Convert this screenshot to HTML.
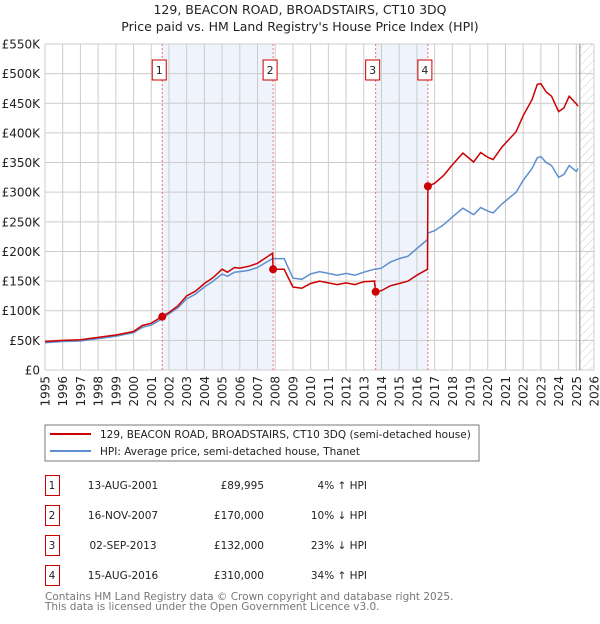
<!DOCTYPE html>
<html><head><meta charset="utf-8"><style>
body{margin:0;background:#fff;font-family:"DejaVu Sans","Liberation Sans",sans-serif;}
svg text{font-family:"DejaVu Sans","Liberation Sans",sans-serif;}
</style></head><body>
<svg id="c" width="600" height="620" xmlns="http://www.w3.org/2000/svg">
<defs><pattern id="hatch" width="6" height="6" patternUnits="userSpaceOnUse" patternTransform="rotate(45)"><line x1="0" y1="0" x2="0" y2="6" stroke="#ccc" stroke-width="1"/></pattern></defs>
<text x="300" y="14" text-anchor="middle" font-size="12.5" fill="#222">129, BEACON ROAD, BROADSTAIRS, CT10 3DQ</text>
<text x="300" y="31" text-anchor="middle" font-size="12.5" fill="#222">Price paid vs. HM Land Registry's House Price Index (HPI)</text>
<g id="plot"></g>
<rect x="45" y="425" width="434" height="36" fill="#fff" stroke="#777"/>
<line x1="50" y1="434" x2="91" y2="434" stroke="#cc0000" stroke-width="2"/>
<text x="100" y="438" font-size="10.5" fill="#222">129, BEACON ROAD, BROADSTAIRS, CT10 3DQ (semi-detached house)</text>
<line x1="50" y1="451" x2="91" y2="451" stroke="#5f8fd0" stroke-width="2"/>
<text x="100" y="455" font-size="10.5" fill="#222">HPI: Average price, semi-detached house, Thanet</text>
<g id="table" font-size="10.5" fill="#222"></g>
<text x="45" y="600" font-size="10.5" fill="#777">Contains HM Land Registry data © Crown copyright and database right 2025.</text>
<text x="45" y="610" font-size="10.5" fill="#777">This data is licensed under the Open Government Licence v3.0.</text>
</svg>
<script>
const dates=[1995.0,1996.0,1997.0,1998.0,1999.0,2000.0,2000.5,2001.0,2001.6,2002.0,2002.5,2003.0,2003.5,2004.0,2004.5,2005.0,2005.3,2005.7,2006.0,2006.5,2007.0,2007.5,2007.85,2007.88,2008.5,2009.0,2009.5,2010.0,2010.5,2011.0,2011.5,2012.0,2012.5,2013.0,2013.6,2013.67,2014.0,2014.5,2015.0,2015.5,2016.0,2016.6,2016.62,2017.0,2017.5,2018.0,2018.6,2019.2,2019.6,2020.0,2020.3,2020.8,2021.2,2021.6,2022.0,2022.5,2022.8,2023.0,2023.3,2023.6,2024.0,2024.3,2024.6,2025.0,2025.1];
const hpi=[46,48,49,53,57,63,72,76,86,95,105,120,128,140,150,162,158,165,166,168,173,182,188,188,188,155,153,162,166,163,160,163,160,165,170,170,172,182,188,192,205,220,231,235,245,258,273,262,274,268,265,280,290,300,320,340,358,360,350,345,325,330,345,335,340];
const price=[48,50,51,55,59,65,75,79,90,97,108,125,133,146,156,170,165,173,172,175,180,190,197,170,170,140,138,146,150,147,144,147,144,149,150,132,134,142,146,150,160,170,310,315,328,346,366,351,367,359,355,376,389,402,429,456,482,483,469,462,436,442,462,449,445];
const saleDates=[2001.62,2007.88,2013.67,2016.62];
const saleValues=[89.995,170,132,310];
const saleLabels=["1","2","3","4"];
const saleDateText=["13-AUG-2001","16-NOV-2007","02-SEP-2013","15-AUG-2016"];
const salePriceText=["£89,995","£170,000","£132,000","£310,000"];
const saleHpiText=["4% ↑ HPI","10% ↓ HPI","23% ↓ HPI","34% ↑ HPI"];
const yTicks=[0,50,100,150,200,250,300,350,400,450,500,550];
const yTickLabels=["£0","£50K","£100K","£150K","£200K","£250K","£300K","£350K","£400K","£450K","£500K","£550K"];
const xTicks=[1995,1996,1997,1998,1999,2000,2001,2002,2003,2004,2005,2006,2007,2008,2009,2010,2011,2012,2013,2014,2015,2016,2017,2018,2019,2020,2021,2022,2023,2024,2025,2026];
const dataEnd=2025.2;

const NS="http://www.w3.org/2000/svg";
const X0=45,X1=594,Y0=370,Y1=44;
const xs=d=>X0+(d-1995)/(2026-1995)*(X1-X0);
const ys=v=>Y0-v/550*(Y0-Y1);
const plot=document.getElementById('plot');
function mk(tag,attrs,parent){const e=document.createElementNS(NS,tag);for(const k in attrs)e.setAttribute(k,attrs[k]);(parent||plot).appendChild(e);return e;}

for(let i=0;i<saleDates.length;i+=2){
  const r=mk('rect',{x:xs(saleDates[i]),y:Y1,width:xs(saleDates[i+1])-xs(saleDates[i]),height:Y0-Y1,fill:'#eef3fc'});
  
  
}
const h=mk('rect',{x:xs(dataEnd),y:Y1,width:X1-xs(dataEnd),height:Y0-Y1,fill:'url(#hatch)'});


yTicks.forEach((t,i)=>{
  const l=mk('line',{x1:X0,x2:X1,y1:ys(t),y2:ys(t),stroke:'#ccc','stroke-width':1});
  
  
  const tx=mk('text',{x:X0-5,y:ys(t)+4.5,'text-anchor':'end','font-size':'12',fill:'#222'});
  tx.textContent=yTickLabels[i];
  
  
});
xTicks.forEach(t=>{
  const l=mk('line',{x1:xs(t),x2:xs(t),y1:Y1,y2:Y0,stroke:'#ccc','stroke-width':1});
  
  
  const tx=mk('text',{x:0,y:0,'text-anchor':'end','font-size':'12',fill:'#222',transform:`translate(${xs(t)+4.5},${Y0+6}) rotate(-90)`});
  tx.textContent=t;
  
  
});
const dl=mk('line',{x1:xs(dataEnd),x2:xs(dataEnd),y1:Y1,y2:Y0,stroke:'#999','stroke-width':1.2});


saleDates.forEach((d,i)=>{
  const l=mk('line',{x1:xs(d),x2:xs(d),y1:Y1,y2:Y0,stroke:'#f07070','stroke-width':1,'stroke-dasharray':'2,2'});
  
  
  const b=mk('rect',{x:xs(d)-10,y:60,width:14,height:20,fill:'#fff',stroke:'#cc0000'});
  
  
  const t=mk('text',{x:xs(d)-3,y:74,'text-anchor':'middle','font-size':'11',fill:'#222'});
  t.textContent=saleLabels[i];
  
  
});
const pts=a=>a.map((v,i)=>xs(dates[i]).toFixed(1)+','+ys(v).toFixed(1)).join(' ');
const hl=mk('polyline',{points:pts(hpi),fill:'none',stroke:'#5f8fd0','stroke-width':1.5});


const pl=mk('polyline',{points:pts(price),fill:'none',stroke:'#cc0000','stroke-width':1.5});


saleDates.forEach((d,i)=>{
  const c=mk('circle',{cx:xs(d),cy:ys(saleValues[i]),r:4,fill:'#cc0000'});
  
  
});
const tb=document.getElementById('table');
saleDates.forEach((d,i)=>{
  const y=475+i*30;
  const b=mk('rect',{x:45.5,y:y+0.5,width:14,height:20,fill:'#fff',stroke:'#cc0000'},tb);
  
  
  const cells=[[52,'middle',saleLabels[i],'table-row-number'],[123,'middle',saleDateText[i],'table-row-date'],[264,'end',salePriceText[i],'table-row-price'],[367,'end',saleHpiText[i],'table-row-hpi-diff']];
  cells.forEach(c=>{
    const t=mk('text',{x:c[0],y:y+14,'text-anchor':c[1]},tb);
    t.textContent=c[2];
    
    
  });
});
</script>
</body></html>
